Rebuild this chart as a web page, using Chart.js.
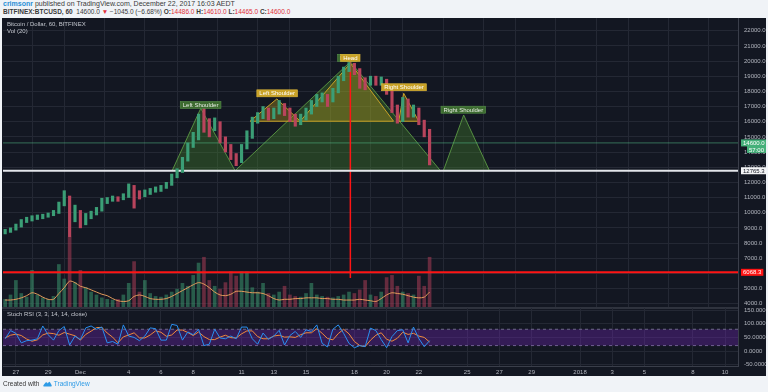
<!DOCTYPE html>
<html>
<head>
<meta charset="utf-8">
<script src="https://cdn.jsdelivr.net/npm/chart.js@4/dist/chart.umd.min.js"></script>
<style>
html, body { margin: 0; padding: 0; width: 768px; height: 392px; overflow: hidden; background: #f0f3f7; font-family: "Liberation Sans", Arial, sans-serif; }
.hdr { position: absolute; left: 3px; white-space: nowrap; color: #3a3a3a; }
#hdr1 { top: 0px; font-size: 7px; }
#hdr2 { top: 8px; font-size: 6.5px; }
.user { color: #2a8fd6; font-weight: bold; }
.red { color: #e0303a; }
#board { position: absolute; left: 2px; top: 18px; width: 764px; height: 358px; background: #131722; }
#cPrice { position: absolute; left: 0; top: 0; }
#cStoch { position: absolute; left: 0; top: 290px; }
#sep { position: absolute; left: 0; top: 289px; width: 736px; height: 2px; background: #2f333e; }
.pane { position: absolute; left: 5px; font-size: 6px; color: #c3c6ce; white-space: nowrap; z-index: 2; }
#foot { position: absolute; left: 3px; top: 380px; font-size: 6.5px; color: #333; white-space: nowrap; }
#foot span { color: #2e9be6; }
</style>
</head>
<body>
<div id="hdr1" class="hdr"><span class="user">crimsonr</span> published on TradingView.com, December 22, 2017 16:03 AEDT</div>
<div id="hdr2" class="hdr"><b>BITFINEX:BTCUSD, 60</b>&nbsp; 14600.0 <span class="red">▼</span> −1045.0 (−6.68%) <b>O:</b><span class="red">14486.0</span> <b>H:</b><span class="red">14610.0</span> <b>L:</b><span class="red">14465.0</span> <b>C:</b><span class="red">14600.0</span></div>
<div id="board">
  <canvas id="cPrice" width="764" height="290"></canvas>
  <div id="sep"></div>
  <canvas id="cStoch" width="764" height="68"></canvas>
  <div class="pane" style="top:3px">Bitcoin / Dollar, 60, BITFINEX</div>
  <div class="pane" style="top:10px">Vol (20)</div>
  <div class="pane" style="top:293px">Stoch RSI (3, 3, 14, 14, close)</div>
</div>
<div id="foot">Created with&nbsp;
  <svg width="9" height="6" viewBox="0 0 9 6" style="vertical-align:-1px"><path d="M1 5.5 Q0 5.5 0.4 4.2 L2.6 1.6 Q3.3 0.8 4 1.6 L4.8 2.6 L5.6 1.2 Q6.3 0.3 7 1.2 L8.7 4.2 Q9 5.5 8 5.5 Z" fill="#2e9be6"/></svg>
  <span>TradingView</span></div>

<script>
// time axis: day offsets from Nov 27
const tickDays = [0, 2, 4, 7, 9, 11, 14, 16, 18, 21, 23, 25, 28, 30, 32, 35, 37, 39, 42, 44];
const tickLabels = ['27', '29', 'Dec', '4', '6', '8', '11', '13', '15', '18', '20', '22', '25', '27', '29', '2018', '3', '5', '8', '10'];
const priceTicks = [4000, 5000, 6000, 7000, 8000, 9000, 10000, 11000, 12000, 13000, 14000, 15000, 16000, 17000, 18000, 19000, 20000, 21000, 22000];
const stochTicks = [-50, 0, 50, 100, 150];

// 8-hour samples, first one at day -2/3
const firstDay = -2 / 3;
const stepDay = 1 / 3;

const priceClose = [
  8750, 8900, 9100, 9400, 9550, 9640, 9700, 9760, 9850, 9950,
  10500, 11300, 9800, 10100, 9400, 9700, 9900, 10150, 10800, 10850,
  10950, 10900, 11050, 11750, 11300, 11200, 11300, 11450, 11500, 11650,
  11800, 12400, 12700, 13450, 14400, 14800, 16000, 15900, 15600, 16000,
  14900, 14300, 13800, 13300, 14300, 15000, 16000, 16350, 16700, 16450,
  16600, 17100, 16800, 16300, 16000, 16250, 16600, 17100, 17500, 17700,
  17350, 18000, 18850, 19400, 19750, 19500, 18700, 18550, 18850, 18700,
  18750, 18000, 17000, 16100, 17400, 16500, 16850, 16000, 15300, 14600
];
const priceHigh = [
  8900, 9000, 9250, 9550, 9700, 9800, 9850, 9900, 9980, 10150,
  10700, 11450, 11100, 10500, 10150, 9950, 10100, 10350, 10950, 11000,
  11100, 11050, 11250, 11900, 11800, 11450, 11500, 11600, 11700, 11800,
  12000, 12550, 12900, 13650, 14600, 15300, 16500, 16880, 16200, 16250,
  16000, 15000, 14500, 13900, 14500, 15400, 16300, 16600, 17000, 16900,
  16900, 17400, 17200, 16900, 16500, 16500, 16900, 17400, 17800, 17900,
  17800, 18200, 19000, 19600, 19900, 19850, 19500, 18900, 19000, 19000,
  18950, 18800, 18100, 17100, 17600, 17500, 17100, 16900, 16100, 15500
];
const priceLow = [
  8600, 8700, 8850, 9050, 9350, 9450, 9550, 9600, 9700, 9800,
  9950, 10450, 8420, 9400, 9000, 9200, 9600, 9850, 10100, 10600,
  10750, 10750, 10850, 11000, 10300, 10900, 11050, 11200, 11350, 11400,
  11600, 11800, 12300, 12650, 13400, 14300, 14800, 15300, 15000, 15400,
  14600, 14000, 13500, 13100, 13300, 14200, 14900, 15900, 16200, 16100,
  16200, 16500, 16400, 16000, 15700, 15800, 16100, 16500, 17000, 17300,
  17000, 17300, 17900, 18700, 19300, 19100, 18200, 18100, 18400, 18400,
  18400, 17800, 16600, 15900, 16000, 16300, 16300, 15800, 15000, 13150
];
const volume = [
  12, 18, 38, 20, 15, 52, 18, 14, 12, 16,
  60, 40, 98, 35, 52, 28, 22, 18, 14, 12,
  11, 12, 18, 34, 64, 22, 38, 20, 16, 15,
  18, 22, 26, 34, 30, 45, 62, 70, 38, 30,
  26, 35, 50, 44, 50, 50, 28, 22, 34, 20,
  18, 22, 30, 18, 16, 15, 20, 34, 18, 16,
  15, 14, 16, 18, 22, 20, 25, 38, 18, 16,
  22, 42, 45, 30, 22, 20, 18, 44, 30, 70
];
const volumeMA = [
  11, 11, 12, 14, 17, 21, 19, 15, 12, 12,
  20, 28, 37, 35, 30, 28, 25, 22, 19, 17,
  13, 10, 9, 10, 16, 18, 16, 13, 12, 12,
  13, 16, 20, 24, 28, 32, 35, 33, 28, 22,
  18, 17, 19, 23, 23, 22, 21, 21, 20, 17,
  13, 11, 12, 12, 13, 13, 14, 14, 14, 13,
  13, 12, 12, 11, 11, 11, 12, 11, 10, 9,
  13, 18, 21, 20, 19, 17, 15, 14, 15, 22
];
const stochK = [
  45, 75, 65, 30, 38, 40, 45, 92, 60, 40,
  75, 90, 22, 55, 42, 85, 92, 80, 88, 30,
  35, 25, 96, 55, 50, 38, 55, 85, 82, 40,
  40, 98, 94, 40, 70, 60, 80, 20, 25, 80,
  48, 45, 55, 45, 88, 88, 45, 25, 66, 43,
  55, 76, 22, 57, 72, 50, 78, 72, 96, 28,
  15, 80, 96, 65, 28, 12, 20, 16, 84, 75,
  42, 12, 53, 75, 78, 30, 88, 46, 16, 38
];
const stochD = [
  48, 58, 62, 57, 44, 36, 41, 59, 66, 64,
  58, 68, 62, 56, 40, 61, 73, 86, 87, 66,
  51, 30, 52, 59, 67, 48, 48, 59, 74, 69,
  54, 59, 77, 77, 68, 57, 70, 53, 42, 42,
  51, 58, 49, 48, 63, 74, 74, 53, 45, 45,
  55, 58, 51, 52, 50, 60, 67, 67, 82, 65,
  46, 41, 64, 80, 63, 35, 20, 16, 40, 58,
  67, 43, 36, 47, 69, 61, 65, 55, 50, 33
];

const lastPrice = 14600.0;
const necklinePrice = 12765.3;
const targetPrice = 6068.3;
const headMeasure = [[20.75, 19950], [20.75, 5700]];

// head & shoulders drawings: [day, price]
const greenShapes = [
  [[9.69, 12765.3], [11.47, 16880], [13.6, 12765.3]],
  [[13.6, 12765.3], [20.75, 19950], [26.34, 12765.3]],
  [[26.52, 12765.3], [27.78, 16440], [29.38, 12765.3]]
];
const orangeShapes = [
  [[14.53, 16030], [16.19, 17500], [17.64, 16030]],
  [[17.64, 16030], [20.75, 19850], [23.43, 16030]],
  [[23.75, 16030], [24.06, 17870], [24.99, 16030]]
];
const patternLabels = [
  { text: 'Left Shoulder', day: 11.46, price: 17100, kind: 'green' },
  { text: 'Left Shoulder', day: 16.21, price: 17870, kind: 'orange' },
  { text: 'Head', day: 20.56, price: 20210, kind: 'green' },
  { text: 'Head', day: 20.75, price: 20210, kind: 'orange' },
  { text: 'Right Shoulder', day: 24.08, price: 18270, kind: 'orange' },
  { text: 'Right Shoulder', day: 27.76, price: 16790, kind: 'green' }
];

const xMin = -0.8, xMax = 44.8;
const gridColor = '#242834';
const axisText = '#b2b5be';
const FONT = '"Liberation Sans", Arial, sans-serif';

Chart.defaults.font.family = FONT;
Chart.defaults.animation = false;

const times = priceClose.map((c, i) => firstDay + i * stepDay);
const upDown = priceClose.map((c, i) => i === 0 || c >= priceClose[i - 1]);
const across = v => [{ x: xMin, y: v }, { x: xMax, y: v }];

function shapeSet(pts, stroke, fill, order) {
  return {
    type: 'line',
    data: pts.concat([pts[0]]).map(p => ({ x: p[0], y: p[1] })),
    borderColor: stroke, borderWidth: 1, backgroundColor: fill,
    fill: 'shape', pointRadius: 0, tension: 0, order: order
  };
}

function noPadY(s) { s.width = 28; s.paddingTop = 0; s.paddingBottom = 0; }

const priceSets = [
  {
    type: 'bar',
    data: times.map((t, i) => ({ x: t, y: [priceLow[i], priceHigh[i]] })),
    backgroundColor: upDown.map(u => u ? '#3b9e76' : '#b8445c'),
    barThickness: 2.5, grouped: false, order: 0
  },
  {
    type: 'bar', yAxisID: 'yVol',
    data: times.map((t, i) => ({ x: t, y: volume[i] })),
    backgroundColor: upDown.map(u => u ? 'rgba(59,150,110,0.55)' : 'rgba(170,60,85,0.55)'),
    barThickness: 3, grouped: false, order: 9
  },
  {
    type: 'line', yAxisID: 'yVol',
    data: times.map((t, i) => ({ x: t, y: volumeMA[i] })),
    borderColor: '#e39a5b', borderWidth: 1, pointRadius: 0, tension: 0.3, order: 2
  },
  { type: 'line', data: across(necklinePrice), borderColor: '#e3e5ea', borderWidth: 2, pointRadius: 0, order: 3 },
  { type: 'line', data: across(targetPrice), borderColor: '#ff1414', borderWidth: 2, pointRadius: 0, order: 3 },
  { type: 'line', data: headMeasure.map(p => ({ x: p[0], y: p[1] })), borderColor: '#ff1414', borderWidth: 1.5, pointRadius: 0, order: 3 },
  { type: 'line', data: across(lastPrice), borderColor: 'rgba(83,185,135,0.55)', borderWidth: 1, pointRadius: 0, order: 4 }
];
greenShapes.forEach(s => priceSets.push(shapeSet(s, 'rgba(95,160,70,0.85)', 'rgba(70,135,45,0.36)', 7)));
orangeShapes.forEach(s => priceSets.push(shapeSet(s, '#c9a227', 'rgba(200,170,30,0.33)', 6)));

const axisMarkers = [
  { value: lastPrice, text: '14600.0', bg: '#45b07a', fg: '#ffffff', dy: 0 },
  { value: lastPrice, text: '57:00', bg: '#45b07a', fg: '#ffffff', dy: 6.5, shift: 6 },
  { value: necklinePrice, text: '12765.3', bg: '#f2f3f5', fg: '#131722', dy: 0 },
  { value: targetPrice, text: '6068.3', bg: '#ff1414', fg: '#ffffff', dy: 0 }
];

const overlay = {
  id: 'overlay',
  afterDatasetsDraw(chart) {
    const { ctx, scales: { x, y } } = chart;
    ctx.save();
    ctx.font = '6px ' + FONT;
    ctx.textAlign = 'center';
    ctx.textBaseline = 'middle';
    patternLabels.forEach(l => {
      const px = x.getPixelForValue(l.day), py = y.getPixelForValue(l.price);
      const w = ctx.measureText(l.text).width + 5, h = 7;
      ctx.fillStyle = l.kind === 'green' ? '#3d6b30' : '#c9a227';
      ctx.fillRect(px - w / 2, py - h / 2, w, h);
      ctx.strokeStyle = l.kind === 'green' ? '#56904a' : '#e0b93a';
      ctx.lineWidth = 0.6;
      ctx.strokeRect(px - w / 2, py - h / 2, w, h);
      ctx.fillStyle = l.kind === 'green' ? '#e6ebe3' : '#ffffff';
      ctx.fillText(l.text, px, py + 0.5);
    });
    ctx.restore();
  },
  afterDraw(chart) {
    const { ctx, chartArea, scales: { y } } = chart;
    ctx.save();
    ctx.font = '6px ' + FONT;
    ctx.textBaseline = 'middle';
    ctx.textAlign = 'left';
    axisMarkers.forEach(m => {
      const py = y.getPixelForValue(m.value) + m.dy;
      const w = ctx.measureText(m.text).width + 4;
      const x0 = chartArea.right + 3 + (m.shift || 0);
      ctx.fillStyle = m.bg;
      ctx.fillRect(x0, py - 3.5, w, 7);
      ctx.fillStyle = m.fg;
      ctx.fillText(m.text, x0 + 2, py + 0.5);
    });
    ctx.restore();
  }
};

new Chart(document.getElementById('cPrice'), {
  type: 'bar',
  data: { datasets: priceSets },
  options: {
    responsive: false, devicePixelRatio: 1,
    layout: { padding: { left: 1, right: 0, top: 0, bottom: 0 } },
    plugins: { legend: { display: false }, tooltip: { enabled: false } },
    scales: {
      x: {
        type: 'linear', min: xMin, max: xMax, offset: false,
        afterBuildTicks: s => { s.ticks = tickDays.map(v => ({ value: v })); },
        afterFit: s => { s.height = 0; s.paddingLeft = 0; s.paddingRight = 0; },
        ticks: { display: false },
        grid: { color: gridColor, drawTicks: false },
        border: { display: false }
      },
      y: {
        position: 'right', min: 3716, max: 22836,
        afterBuildTicks: s => { s.ticks = priceTicks.map(v => ({ value: v })); },
        afterFit: noPadY,
        ticks: { color: axisText, font: { size: 6 }, padding: 6, callback: v => v.toFixed(1) },
        grid: { color: gridColor, drawTicks: false },
        border: { color: '#3a3e4a' }
      },
      yVol: { display: false, min: 0, max: 400 }
    }
  },
  plugins: [overlay]
});

new Chart(document.getElementById('cStoch'), {
  type: 'line',
  data: {
    datasets: [
      { data: across(80), borderColor: '#6f6a8a', borderWidth: 1, borderDash: [3, 3], pointRadius: 0,
        fill: '+1', backgroundColor: 'rgba(110,40,180,0.36)', order: 3 },
      { data: across(20), borderColor: '#6f6a8a', borderWidth: 1, borderDash: [3, 3], pointRadius: 0, order: 3 },
      { data: times.map((t, i) => ({ x: t, y: stochD[i] })), borderColor: '#f08a3c', borderWidth: 1, pointRadius: 0, order: 2 },
      { data: times.map((t, i) => ({ x: t, y: stochK[i] })), borderColor: '#2a8ff0', borderWidth: 1, pointRadius: 0, order: 1 }
    ]
  },
  options: {
    responsive: false, devicePixelRatio: 1,
    layout: { padding: { left: 1, right: 0, top: 0, bottom: 0 } },
    plugins: { legend: { display: false }, tooltip: { enabled: false } },
    scales: {
      x: {
        type: 'linear', min: xMin, max: xMax,
        afterBuildTicks: s => { s.ticks = tickDays.map(v => ({ value: v })); },
        afterFit: s => { s.height = 10; s.paddingLeft = 0; s.paddingRight = 0; },
        ticks: { color: axisText, font: { size: 6 }, padding: 3, autoSkip: false, maxRotation: 0,
                 callback: (v, i) => tickLabels[i] },
        grid: { color: gridColor, drawTicks: false },
        border: { color: '#3a3e4a' }
      },
      y: {
        position: 'right', min: -55.1, max: 158.1,
        afterBuildTicks: s => { s.ticks = stochTicks.map(v => ({ value: v })); },
        afterFit: noPadY,
        ticks: { color: axisText, font: { size: 6 }, padding: 6, callback: v => v.toFixed(4) },
        grid: { color: gridColor, drawTicks: false },
        border: { color: '#3a3e4a' }
      }
    }
  }
});
</script>
</body>
</html>
